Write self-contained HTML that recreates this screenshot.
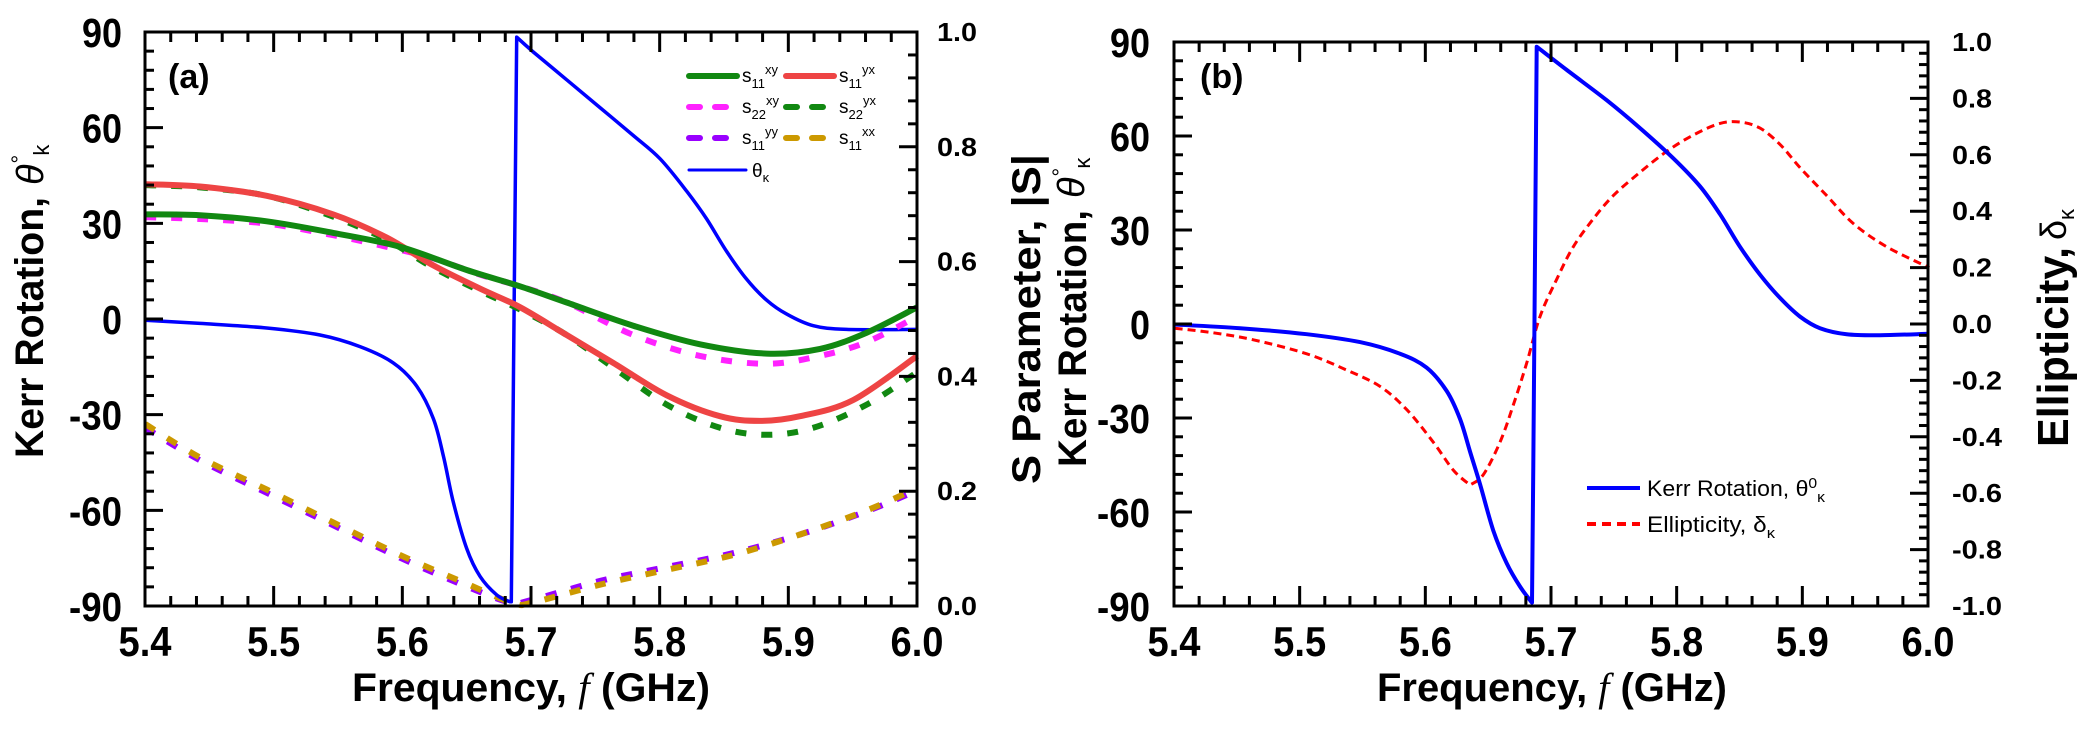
<!DOCTYPE html>
<html><head><meta charset="utf-8"><style>
html,body{margin:0;padding:0;background:#fff;width:2082px;height:729px;overflow:hidden}
svg{display:block}
text{font-family:"Liberation Sans",sans-serif;font-weight:bold;fill:#000}
.n{font-weight:normal}
</style></head><body>
<svg id="s" width="2082" height="729" viewBox="0 0 2082 729" xmlns="http://www.w3.org/2000/svg">
<g id="curves" fill="none" stroke-linejoin="round"></g>
<rect x="145" y="32" width="772" height="574" fill="none" stroke="#000" stroke-width="3"/>
<rect x="1174" y="42" width="754" height="564" fill="none" stroke="#000" stroke-width="3"/>
<g id="ticks"></g>
<g stroke-linecap="round">
<line x1="689" y1="76" x2="737" y2="76" stroke="#118811" stroke-width="6"/>
<line x1="786" y1="76" x2="834" y2="76" stroke="#ee4444" stroke-width="6"/>
<line x1="689" y1="107" x2="737" y2="107" stroke="#ff22ff" stroke-width="6" stroke-dasharray="11,15"/>
<line x1="786" y1="107" x2="834" y2="107" stroke="#118811" stroke-width="6" stroke-dasharray="11,15"/>
<line x1="689" y1="138" x2="737" y2="138" stroke="#9900ff" stroke-width="6" stroke-dasharray="11,15"/>
<line x1="786" y1="138" x2="834" y2="138" stroke="#cc9900" stroke-width="6" stroke-dasharray="11,15"/>
<line x1="689" y1="170" x2="746" y2="170" stroke="#0000ff" stroke-width="3"/>
</g>
<g font-size="19" class="n">
<text x="742" y="82" class="n">s<tspan font-size="13" dy="6">11</tspan><tspan font-size="13" dy="-14">xy</tspan></text>
<text x="839" y="82" class="n">s<tspan font-size="13" dy="6">11</tspan><tspan font-size="13" dy="-14">yx</tspan></text>
<text x="742" y="113" class="n">s<tspan font-size="13" dy="6">22</tspan><tspan font-size="13" dy="-14">xy</tspan></text>
<text x="839" y="113" class="n">s<tspan font-size="13" dy="6">22</tspan><tspan font-size="13" dy="-14">yx</tspan></text>
<text x="742" y="144" class="n">s<tspan font-size="13" dy="6">11</tspan><tspan font-size="13" dy="-14">yy</tspan></text>
<text x="839" y="144" class="n">s<tspan font-size="13" dy="6">11</tspan><tspan font-size="13" dy="-14">xx</tspan></text>
<text x="752" y="177" class="n">θ<tspan font-size="13" dy="5">κ</tspan></text>
</g>
<text x="168" y="88" font-size="34">(a)</text>
<text x="1200" y="88" font-size="34">(b)</text>
<line x1="1587" y1="488" x2="1640" y2="488" stroke="#0000ff" stroke-width="4"/>
<line x1="1587" y1="524" x2="1640" y2="524" stroke="#ff0000" stroke-width="4" stroke-dasharray="9,6"/>
<text x="1647" y="496" font-size="22" class="n" textLength="178" lengthAdjust="spacingAndGlyphs">Kerr Rotation, θ<tspan font-size="15" dy="-8">0</tspan><tspan font-size="15" dy="14">κ</tspan></text>
<text x="1647" y="532" font-size="22" class="n" textLength="128" lengthAdjust="spacingAndGlyphs">Ellipticity, δ<tspan font-size="15" dy="6">κ</tspan></text>
<text x="352" y="701" font-size="40" textLength="358" lengthAdjust="spacingAndGlyphs">Frequency, <tspan font-style="italic" font-family="Liberation Serif" class="n">f</tspan> (GHz)</text>
<text x="1377" y="701" font-size="40" textLength="350" lengthAdjust="spacingAndGlyphs">Frequency, <tspan font-style="italic" font-family="Liberation Serif" class="n">f</tspan> (GHz)</text>
<text transform="translate(43,458) rotate(-90)" font-size="40" textLength="261" lengthAdjust="spacingAndGlyphs">Kerr Rotation,</text>
<text transform="translate(43,185) rotate(-90)" font-size="38" font-style="italic" font-family="Liberation Serif" class="n">θ<tspan font-size="22" dy="-16">°</tspan><tspan font-size="22" dy="22" font-family="Liberation Sans" font-style="normal">k</tspan></text>
<text transform="translate(1040,484) rotate(-90)" font-size="40" textLength="330" lengthAdjust="spacingAndGlyphs">S Parameter, |S|</text>
<text transform="translate(1086,467) rotate(-90)" font-size="40" textLength="257" lengthAdjust="spacingAndGlyphs">Kerr Rotation,</text>
<text transform="translate(1084,198) rotate(-90)" font-size="38" font-style="italic" font-family="Liberation Serif" class="n">θ<tspan font-size="22" dy="-16">°</tspan><tspan font-size="22" dy="22" font-style="normal">κ</tspan></text>
<text transform="translate(2068,447) rotate(-90)" font-size="44" textLength="200" lengthAdjust="spacingAndGlyphs">Ellipticity,</text>
<text transform="translate(2066,240) rotate(-90)" font-size="36" font-family="Liberation Serif" class="n">δ<tspan font-size="22" dy="8">κ</tspan></text>
</svg>
<script>
(function(){
var NS="http://www.w3.org/2000/svg";
function el(p,t,a,txt){var e=document.createElementNS(NS,t);for(var k in a)e.setAttribute(k,a[k]);if(txt!=null)e.textContent=txt;p.appendChild(e);return e;}
var C=document.getElementById("curves"),TK=document.getElementById("ticks");
function ma(p){return [p[0]/1.5,32+(p[1]-67)*574/1237];}
function mb(p){return [1040+p[0]/1.5,42+(p[1]-90)*564/1212];}
function spline(m,arr){var P=[];for(var i=0;i<arr.length;i+=2)P.push(m([arr[i],arr[i+1]]));
 var d="M"+P[0][0].toFixed(1)+","+P[0][1].toFixed(1);
 for(i=0;i<P.length-1;i++){var p0=P[i>0?i-1:i],p1=P[i],p2=P[i+1],p3=P[i+2<P.length?i+2:i+1];
  var c1=[p1[0]+(p2[0]-p0[0])/6,p1[1]+(p2[1]-p0[1])/6],c2=[p2[0]-(p3[0]-p1[0])/6,p2[1]-(p3[1]-p1[1])/6];
  d+=" C"+c1[0].toFixed(1)+","+c1[1].toFixed(1)+" "+c2[0].toFixed(1)+","+c2[1].toFixed(1)+" "+p2[0].toFixed(1)+","+p2[1].toFixed(1);}
 return d;}
function poly(m,segs,col,w,dash){var d="";for(var s=0;s<segs.length;s++){var sd=spline(m,segs[s]);d+=(s? " L"+sd.slice(1):sd);}
 var a={d:d,stroke:col,"stroke-width":w};if(dash)a["stroke-dasharray"]=dash;el(C,"path",a);}
var D="11,15";
poly(ma,[[218,920,300,990,400,1060,500,1130,600,1200,700,1262,765,1296,800,1290,900,1250,1000,1220,1100,1190,1200,1150,1300,1100,1376,1055]],"#9900ff",6,D);
poly(ma,[[218,912,300,984,400,1053,500,1124,600,1194,700,1256,770,1298,800,1296,900,1258,1000,1226,1100,1194,1200,1150,1300,1098,1376,1050]],"#cc9900",6,D);
poly(ma,[[218,688,300,695,400,705,480,720,540,745,590,780,625,830,650,900,665,980,680,1080,700,1180,720,1240,745,1280,765,1295],[767,1295,775,78],[775,78,800,110,850,170,900,230,950,290,990,340,1030,410,1060,470,1090,540,1120,600,1150,645,1180,675,1220,700,1270,708,1376,708]],"#0000ff",3.5);
poly(ma,[[218,466,300,470,400,480,500,505,580,530,650,555,720,590,780,615,850,650,950,720,1050,765,1150,782,1230,765,1300,735,1376,680]],"#ff22ff",6,D);
poly(ma,[[218,397,300,402,400,420,500,465,580,515,650,575,720,625,780,665,850,720,920,790,1000,870,1080,920,1150,935,1220,920,1300,870,1376,800]],"#118811",6,D);
poly(ma,[[218,395,300,400,400,420,500,460,580,510,650,570,720,620,780,660,850,720,920,780,1000,850,1080,895,1140,905,1200,895,1280,860,1376,765]],"#ee4444",6);
poly(ma,[[218,460,300,462,400,475,500,500,600,530,700,580,780,615,850,650,950,700,1050,740,1150,760,1230,750,1300,715,1376,660]],"#118811",6);
poly(mb,[[202,705,260,715,320,730,400,760,460,795,510,830,550,880,590,950,620,1010,645,1042],[645,1042,665,1020,690,950,710,870,730,780,750,680,775,600,800,530,830,470,860,420,900,370,940,325,980,290,1020,265,1050,262,1080,275,1110,310,1140,360,1180,420,1220,480,1270,530,1334,575]],"#ff0000",3,"8,5");
poly(mb,[[202,697,300,705,400,718,480,735,540,760,580,790,610,840,630,900,645,970,660,1040,680,1140,700,1210,720,1260,738,1295],[738,1295,740,1000,745,100],[745,100,790,150,850,215,900,275,950,340,990,400,1020,460,1050,530,1080,590,1110,640,1140,680,1170,705,1210,718,1260,720,1334,717]],"#0000ff",4);
function panel(L,R,T,B,xl,yl,yr,lx,rx){
 var nx=xl.length-1,ny=yl.length-1,nr=yr.length-1,i;
 function ln(a,b,c,d){el(TK,"line",{x1:a,y1:b,x2:c,y2:d,stroke:"#000","stroke-width":3});}
 for(i=0;i<=nx*5;i++){var x=L+(R-L)*i/(nx*5),len=i%5?10:20;ln(x,B,x,B-len);ln(x,T,x,T+len);}
 for(i=0;i<=ny*5;i++){var y=T+(B-T)*i/(ny*5),len=i%5?9:18;ln(L,y,L+len,y);}
 for(i=0;i<=nr*5;i++){var y=T+(B-T)*i/(nr*5),len=i%5?9:18;ln(R,y,R-len,y);}
 for(i=0;i<=nx;i++){var x=L+(R-L)*i/nx;el(TK,"text",{x:x,y:656,"font-size":42,"text-anchor":"middle",textLength:53,lengthAdjust:"spacingAndGlyphs"},xl[i]);}
 for(i=0;i<=ny;i++){var y=T+(B-T)*i/ny,s=yl[i];el(TK,"text",{x:lx,y:y+15,"font-size":41,"text-anchor":"end",textLength:(s.length*20+(s.charAt(0)=="-"?-7:0)),lengthAdjust:"spacingAndGlyphs"},s);}
 for(i=0;i<=nr;i++){var y=T+(B-T)*i/nr,s=yr[i];el(TK,"text",{x:rx,y:y+9,"font-size":26,textLength:(s.length==4?50:40),lengthAdjust:"spacingAndGlyphs"},s);}
}
var xl=["5.4","5.5","5.6","5.7","5.8","5.9","6.0"],yl=["90","60","30","0","-30","-60","-90"];
panel(145,917,32,606,xl,yl,["1.0","0.8","0.6","0.4","0.2","0.0"],122,937);
panel(1174,1928,42,606,xl,yl,["1.0","0.8","0.6","0.4","0.2","0.0","-0.2","-0.4","-0.6","-0.8","-1.0"],1150,1952);
})();
</script>
</body></html>
